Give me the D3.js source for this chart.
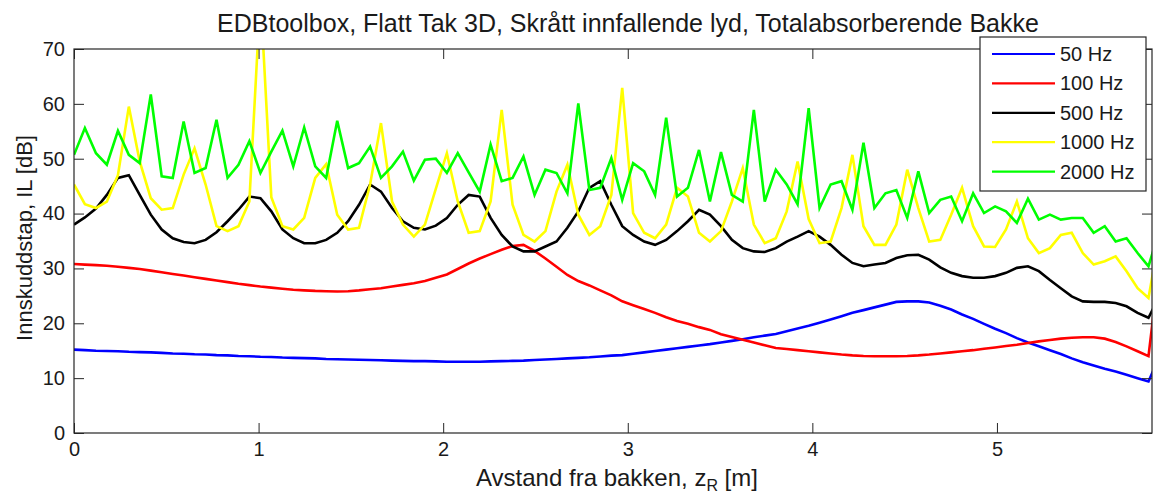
<!DOCTYPE html>
<html>
<head>
<meta charset="utf-8">
<script src="https://cdn.jsdelivr.net/npm/d3@7"></script>
<style>
  html, body { margin: 0; padding: 0; background: #fff; }
  svg { display: block; font-family: "Liberation Sans", Arial, sans-serif; }
</style>
</head>
<body>
<svg id="chart" width="1153" height="499"></svg>
<script>
// Receiver height above the ground, z_R [m] (last sample lies just past the axis limit)
const distance = [
  0.000, 0.059, 0.119, 0.178, 0.238, 0.297, 0.356, 0.416, 0.475, 0.535,
  0.594, 0.653, 0.713, 0.772, 0.832, 0.891, 0.950, 1.010, 1.069, 1.129,
  1.188, 1.247, 1.307, 1.366, 1.426, 1.485, 1.544, 1.604, 1.663, 1.723,
  1.782, 1.841, 1.901, 1.960, 2.020, 2.079, 2.138, 2.198, 2.257, 2.317,
  2.376, 2.435, 2.495, 2.554, 2.614, 2.673, 2.732, 2.792, 2.851, 2.911,
  2.970, 3.029, 3.089, 3.148, 3.208, 3.267, 3.326, 3.386, 3.445, 3.505,
  3.564, 3.623, 3.683, 3.742, 3.802, 3.861, 3.920, 3.980, 4.039, 4.099,
  4.158, 4.217, 4.277, 4.336, 4.396, 4.455, 4.514, 4.574, 4.633, 4.693,
  4.752, 4.811, 4.871, 4.930, 4.990, 5.049, 5.108, 5.168, 5.227, 5.287,
  5.346, 5.405, 5.465, 5.524, 5.584, 5.643, 5.702, 5.762, 5.821, 5.881
];

// Insertion loss IL [dB] per frequency
const il50 = [
  15.2, 15.1, 15.0, 14.95, 14.9, 14.8, 14.75, 14.7, 14.6, 14.5,
  14.45, 14.35, 14.3, 14.2, 14.15, 14.05, 14.0, 13.9, 13.85, 13.75,
  13.7, 13.65, 13.6, 13.5, 13.45, 13.4, 13.35, 13.3, 13.25, 13.2,
  13.15, 13.1, 13.1, 13.05, 13.0, 13.0, 13.0, 13.0, 13.05, 13.1,
  13.15, 13.2, 13.3, 13.4, 13.5, 13.6, 13.7, 13.8, 13.95, 14.1,
  14.2, 14.45, 14.7, 14.95, 15.2, 15.45, 15.7, 15.95, 16.2, 16.5,
  16.8, 17.1, 17.45, 17.75, 18.05, 18.55, 19.05, 19.55, 20.1, 20.7,
  21.3, 21.9, 22.4, 22.9, 23.4, 23.9, 24.0, 24.0, 23.8, 23.2,
  22.5, 21.6, 20.8, 19.9, 19.0, 18.2, 17.3, 16.5, 15.8, 15.1,
  14.4, 13.6, 12.9, 12.3, 11.7, 11.2, 10.6, 10.0, 9.4, 14.0
];
const il100 = [
  30.8, 30.7, 30.6, 30.5, 30.3, 30.1, 29.9, 29.6, 29.3, 29.0,
  28.7, 28.4, 28.1, 27.8, 27.5, 27.2, 26.95, 26.7, 26.5, 26.3,
  26.1, 26.0, 25.9, 25.85, 25.8, 25.85, 26.0, 26.2, 26.4, 26.7,
  27.0, 27.3, 27.7, 28.3, 28.9, 29.9, 30.9, 31.8, 32.6, 33.4,
  34.1, 34.3, 33.2, 31.8, 30.3, 28.8, 27.7, 26.9, 26.0, 25.1,
  24.0, 23.3, 22.6, 21.9, 21.1, 20.4, 19.9, 19.3, 18.8, 18.0,
  17.5, 17.0, 16.5, 16.0, 15.5, 15.3, 15.1, 14.9, 14.7, 14.5,
  14.3, 14.15, 14.05, 14.0, 14.0, 14.0, 14.05, 14.15, 14.3, 14.5,
  14.7, 14.9, 15.1, 15.35, 15.6, 15.85, 16.1, 16.4, 16.7, 16.95,
  17.2, 17.35, 17.45, 17.45, 17.2, 16.6, 15.8, 14.9, 14.0, 31.0
];
const il500 = [
  38.0, 39.3, 40.9, 43.4, 46.5, 47.0, 43.4, 39.8, 37.1, 35.5,
  34.8, 34.6, 35.2, 36.6, 38.6, 40.7, 43.1, 42.8, 40.4, 37.1,
  35.5, 34.6, 34.6, 35.2, 36.5, 38.6, 41.6, 45.3, 44.0, 41.0,
  38.6, 37.4, 37.1, 37.8, 39.2, 41.6, 43.4, 43.1, 39.2, 36.1,
  34.0, 33.1, 33.1, 34.0, 34.9, 37.4, 40.4, 44.7, 45.9, 41.6,
  37.7, 36.1, 34.9, 34.3, 35.2, 36.8, 38.6, 40.7, 39.8, 37.7,
  35.2, 33.7, 33.1, 33.0, 33.7, 34.9, 35.8, 36.8, 35.8, 34.3,
  32.5, 31.0, 30.4, 30.7, 31.0, 31.9, 32.4, 32.5, 31.6, 30.2,
  29.2, 28.6, 28.3, 28.3, 28.6, 29.2, 30.1, 30.4, 29.5, 27.9,
  26.4, 24.9, 24.0, 23.9, 23.9, 23.7, 23.1, 21.9, 21.0, 25.0
];
const il1000 = [
  45.3, 41.7, 41.0, 42.2, 47.0, 59.5, 49.5, 42.8, 40.7, 41.0,
  47.1, 51.9, 45.3, 37.7, 36.8, 37.7, 42.2, 80.0, 43.0, 37.7,
  37.1, 39.2, 46.5, 49.0, 39.8, 37.1, 37.4, 45.3, 56.5, 42.2,
  38.0, 35.8, 38.0, 44.5, 51.0, 42.2, 36.5, 36.8, 42.2, 58.9,
  41.6, 36.1, 34.9, 36.8, 44.0, 48.9, 39.8, 36.1, 37.7, 43.4,
  62.9, 40.1, 36.5, 35.5, 38.0, 44.7, 43.1, 36.5, 34.9, 36.8,
  42.2, 48.3, 38.0, 34.6, 35.5, 40.4, 49.5, 39.0, 34.6, 34.9,
  41.0, 50.7, 37.7, 34.3, 34.3, 38.0, 48.0, 41.0, 34.9, 35.2,
  39.8, 44.7, 37.7, 34.0, 33.9, 37.1, 42.2, 35.5, 32.8, 33.7,
  36.1, 36.5, 32.8, 30.7, 31.3, 32.2, 29.5, 26.4, 24.6, 36.0
];
const il2000 = [
  50.7, 55.6, 51.0, 48.9, 55.1, 50.7, 49.2, 61.7, 46.8, 46.5,
  56.8, 47.4, 48.3, 57.1, 46.5, 48.9, 53.2, 47.4, 51.3, 55.1,
  48.6, 55.7, 48.6, 46.5, 56.9, 48.3, 49.2, 52.2, 46.5, 48.6,
  51.3, 46.0, 49.8, 50.0, 47.4, 51.0, 47.5, 44.0, 52.6, 45.9,
  46.5, 50.4, 43.4, 48.0, 47.4, 43.7, 60.1, 44.3, 44.7, 50.1,
  42.5, 49.2, 47.7, 43.4, 57.5, 43.1, 44.7, 51.6, 42.2, 51.2,
  43.4, 42.2, 58.9, 42.2, 48.0, 45.3, 41.7, 59.2, 41.0, 45.3,
  45.9, 40.7, 52.9, 41.0, 43.7, 44.3, 39.2, 47.7, 40.1, 42.5,
  43.1, 38.6, 43.7, 40.1, 41.3, 40.4, 38.3, 42.7, 38.9, 39.8,
  38.9, 39.2, 39.2, 36.5, 37.7, 34.9, 35.5, 32.8, 30.4, 37.0
];

const seriesNames = ["50 Hz", "100 Hz", "500 Hz", "1000 Hz", "2000 Hz"];
const seriesValues = [il50, il100, il500, il1000, il2000];
const xTicks = [0, 1, 2, 3, 4, 5];
const yTicks = [0, 10, 20, 30, 40, 50, 60, 70];

const titleText = "EDBtoolbox, Flatt Tak 3D, Skrått innfallende lyd, Totalabsorberende Bakke";
const xLabelMain = "Avstand fra bakken, z";
const xLabelSub = "R";
const xLabelTail = " [m]";
const yLabelText = "Innskuddstap, IL [dB]";

// ---- layout & styling ----
const svg = d3.select("#chart");
const plot = { left: 74, right: 1152, top: 49, bottom: 433 };
const lineColor = d3.scaleOrdinal()
  .domain(seriesNames)
  .range(["#0000ff", "#ff0000", "#000000", "#ffff00", "#00ff00"]);

const x = d3.scaleLinear().domain([0, 5.84]).range([plot.left, plot.right]);
const y = d3.scaleLinear().domain([0, 70]).range([plot.bottom, plot.top]);

svg.append("defs").append("clipPath").attr("id", "plot-clip")
  .append("rect")
  .attr("x", plot.left).attr("y", plot.top)
  .attr("width", plot.right - plot.left)
  .attr("height", plot.bottom - plot.top);

// curves
const line = d3.line()
  .x((d, i) => x(distance[i]))
  .y(d => y(d));

const curves = svg.append("g").attr("clip-path", "url(#plot-clip)");
seriesNames.forEach((name, s) => {
  curves.append("path")
    .datum(seriesValues[s])
    .attr("fill", "none")
    .attr("stroke", lineColor(name))
    .attr("stroke-width", 2.6)
    .attr("stroke-linejoin", "miter")
    .attr("d", line);
});

// axes (MATLAB style: inward ticks on all four sides, box)
const tickLen = 10;
const axisColor = "#262626";
function styleAxis(g) {
  g.select(".domain").remove();
  g.selectAll(".tick line").attr("stroke", axisColor);
  g.selectAll(".tick text").attr("fill", "#1a1a1a").style("font-size", "20px")
    .style("font-family", "'Liberation Sans', Arial, sans-serif");
}

svg.append("g")
  .attr("transform", `translate(0,${plot.bottom})`)
  .call(d3.axisBottom(x).tickValues(xTicks).tickFormat(d3.format("d"))
    .tickSizeInner(-tickLen).tickSizeOuter(0).tickPadding(9))
  .call(styleAxis);
svg.append("g")
  .attr("transform", `translate(0,${plot.top})`)
  .call(d3.axisTop(x).tickValues(xTicks).tickFormat("")
    .tickSizeInner(-tickLen).tickSizeOuter(0))
  .call(styleAxis);
svg.append("g")
  .attr("transform", `translate(${plot.left},0)`)
  .call(d3.axisLeft(y).tickValues(yTicks).tickFormat(d3.format("d"))
    .tickSizeInner(-tickLen).tickSizeOuter(0).tickPadding(9))
  .call(styleAxis);
svg.append("g")
  .attr("transform", `translate(${plot.right},0)`)
  .call(d3.axisRight(y).tickValues(yTicks).tickFormat("")
    .tickSizeInner(-tickLen).tickSizeOuter(0))
  .call(styleAxis);

svg.append("rect")
  .attr("x", plot.left).attr("y", plot.top)
  .attr("width", plot.right - plot.left)
  .attr("height", plot.bottom - plot.top)
  .attr("fill", "none").attr("stroke", axisColor).attr("stroke-width", 1.2);

// title
svg.append("text")
  .attr("x", 628).attr("y", 32)
  .attr("text-anchor", "middle")
  .attr("fill", "#1a1a1a")
  .style("font-size", "25px")
  .text(titleText);

// x label with subscript
const xl = svg.append("text")
  .attr("x", 617).attr("y", 486)
  .attr("text-anchor", "middle")
  .attr("fill", "#1a1a1a")
  .style("font-size", "24px");
xl.append("tspan").text(xLabelMain);
xl.append("tspan").attr("dy", 5).style("font-size", "16px").text(xLabelSub);
xl.append("tspan").attr("dy", -5).text(xLabelTail);

// y label
svg.append("text")
  .attr("transform", `translate(32,${(plot.top + plot.bottom) / 2 - 3}) rotate(-90)`)
  .attr("text-anchor", "middle")
  .attr("fill", "#1a1a1a")
  .style("font-size", "22px")
  .text(yLabelText);

// legend
const legend = { x: 980, y: 37, w: 166, h: 154, row: 29.4 };
const lg = svg.append("g");
lg.append("rect")
  .attr("x", legend.x).attr("y", legend.y)
  .attr("width", legend.w).attr("height", legend.h)
  .attr("fill", "#fff").attr("stroke", axisColor).attr("stroke-width", 1.2);
seriesNames.forEach((name, i) => {
  const cy = legend.y + 17 + i * legend.row;
  lg.append("line")
    .attr("x1", legend.x + 12).attr("x2", legend.x + 75)
    .attr("y1", cy).attr("y2", cy)
    .attr("stroke", lineColor(name)).attr("stroke-width", 2.2);
  lg.append("text")
    .attr("x", legend.x + 80).attr("y", cy)
    .attr("dy", "0.35em")
    .attr("fill", "#1a1a1a")
    .style("font-size", "20px")
    .text(name);
});
</script>
</body>
</html>
